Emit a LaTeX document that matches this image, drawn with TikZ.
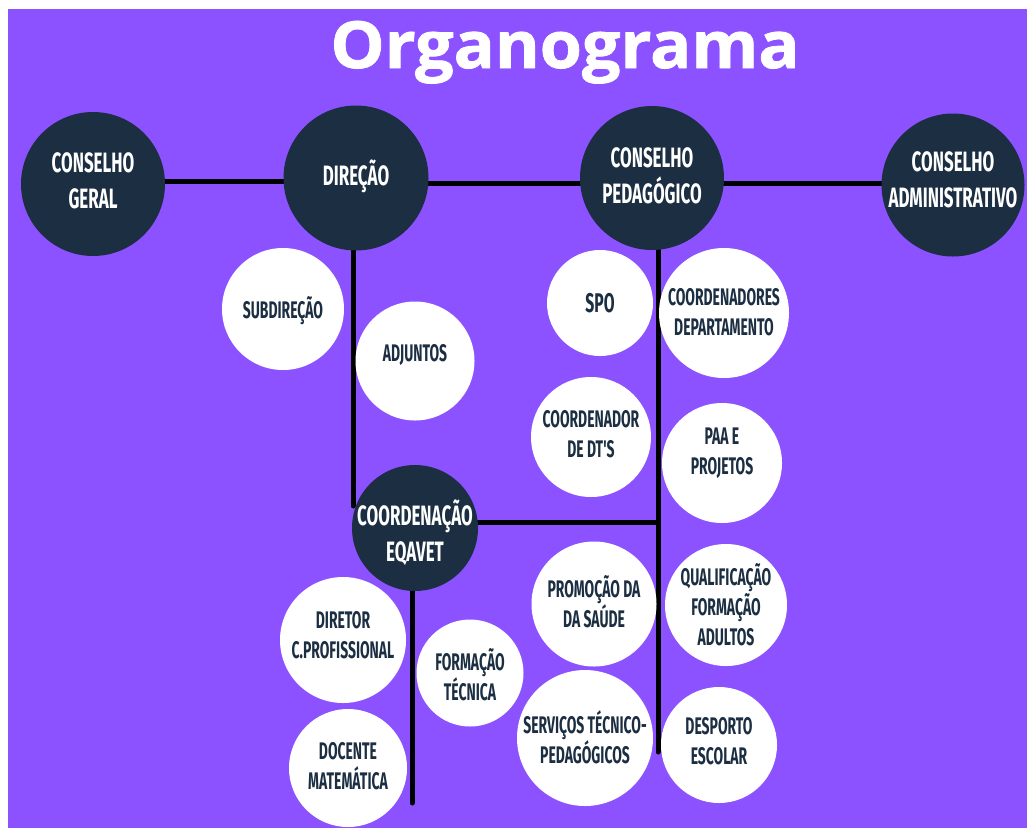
\documentclass[tikz,border=0pt]{standalone}
\usepackage{fontspec}
\usetikzlibrary{backgrounds}
\newfontfamily\dcond[FakeStretch=0.605]{Fira Sans}
\newfontfamily\lcond[FakeStretch=0.58]{Fira Sans}
\newfontfamily\titlefont[BoldFeatures={FakeBold=1.2,FakeStretch=1.05}]{Open Sans}
\definecolor{bgpurple}{HTML}{8C52FF}
\definecolor{navy}{HTML}{1B2E42}
\begin{document}
\begin{tikzpicture}[x=1pt,y=-1pt,
  dark/.style={circle, fill=navy, minimum size=#1, inner sep=0pt},
  lite/.style={circle, fill=white, minimum size=#1, inner sep=0pt},
  dtext/.style={text=white, font=\dcond\bfseries\fontsize{28}{36}\selectfont, align=center, inner sep=0pt},
  ltext/.style={text=navy, font=\lcond\bfseries\fontsize{24}{30}\selectfont, align=center, inner sep=0pt},
  conn/.style={line width=5pt, black, line cap=round}]
\useasboundingbox (0,0) rectangle (1027,828);
\begin{scope}[on background layer]
  \fill[white] (0,0) rectangle (1027,828);
  \fill[bgpurple] (8,9) rectangle (1027,828);
\end{scope}

\node[text=white, font=\titlefont\bfseries\fontsize{65}{65}\selectfont, anchor=base, inner sep=0pt] (title) at (565,68) {Organograma};

% dark circles
\node[dark=144, label={[dtext, yshift=3pt]center:CONSELHO\\GERAL}] (cg) at (93,184) {};
\node[dark=145, label={[dtext, yshift=2pt]center:DIREÇÃO}] (dir) at (356,178) {};
\node[dark=144, label={[dtext, yshift=2pt]center:CONSELHO\\PEDAGÓGICO}] (cp) at (652,178) {};
\node[dark=143, label={[dtext, yshift=5pt]center:CONSELHO\\ADMINISTRATIVO}] (ca) at (953,185) {};
\node[dark=126, label={[dtext, yshift=-5pt]center:COORDENAÇÃO\\EQAVET}] (eq) at (415,528) {};

% white circles
\node[lite=122, label={[ltext, yshift=-2pt]center:SUBDIREÇÃO}] (sub) at (283,309) {};
\node[lite=119, label={[ltext, yshift=6pt]center:ADJUNTOS}] (adj) at (415,361) {};
\node[lite=106, label={[ltext, font=\lcond\bfseries\fontsize{27}{30}\selectfont]center:SPO}] (spo) at (600,303) {};
\node[lite=130, label={[ltext, yshift=1pt]center:COORDENADORES\\DEPARTAMENTO}] (cdep) at (724,313) {};
\node[lite=120, label={[ltext, yshift=3pt]center:COORDENADOR\\DE DT'S}] (dts) at (591,437) {};
\node[lite=120, label={[ltext, yshift=10pt]center:PAA E\\PROJETOS}] (paa) at (722,463) {};
\node[lite=126, label={[ltext, yshift=5pt]center:DIRETOR\\C.PROFISSIONAL}] (dirp) at (343,640) {};
\node[lite=107, label={[ltext, yshift=-2pt]center:FORMAÇÃO\\TÉCNICA}] (form) at (470,673) {};
\node[lite=118, label={[ltext, yshift=2pt]center:DOCENTE\\MATEMÁTICA}] (doc) at (348,768) {};
\node[lite=125, label={[ltext, yshift=2pt]center:PROMOÇÃO DA\\DA SAÚDE}] (prom) at (594,604) {};
\node[lite=122, label={[ltext]center:QUALIFICAÇÃO\\FORMAÇÃO\\ADULTOS}] (qual) at (726,605) {};
\node[lite=136, label={[ltext, yshift=1pt]center:SERVIÇOS TÉCNICO-\\PEDAGÓGICOS}] (serv) at (585,738) {};
\node[lite=116, label={[ltext, yshift=4pt]center:DESPORTO\\ESCOLAR}] (desp) at (719,745) {};

% free ends of connectors
\coordinate (dirend) at (353,506);
\coordinate (cpend) at (658,752);
\coordinate (eqend) at (412,803);

\begin{scope}[on background layer]
  \draw[conn] ([yshift=3pt]cg.east) -- ([yshift=-3pt]dir.west);
  \draw[conn] ([yshift=-5pt]dir.east) -- ([yshift=-5pt]cp.west);
  \draw[conn] ([yshift=-5pt]cp.east) -- ([yshift=2pt]ca.west);
  \draw[conn] ([xshift=-3pt]dir.south) -- (dirend);
  \draw[conn] ([xshift=6pt]cp.south) -- (cpend);
  \draw[conn] ([yshift=6pt]eq.east) -- ([yshift=6pt]eq.east -| cpend);
  \draw[conn] ([xshift=-3pt]eq.south) -- (eqend);
\end{scope}
\end{tikzpicture}
\end{document}
